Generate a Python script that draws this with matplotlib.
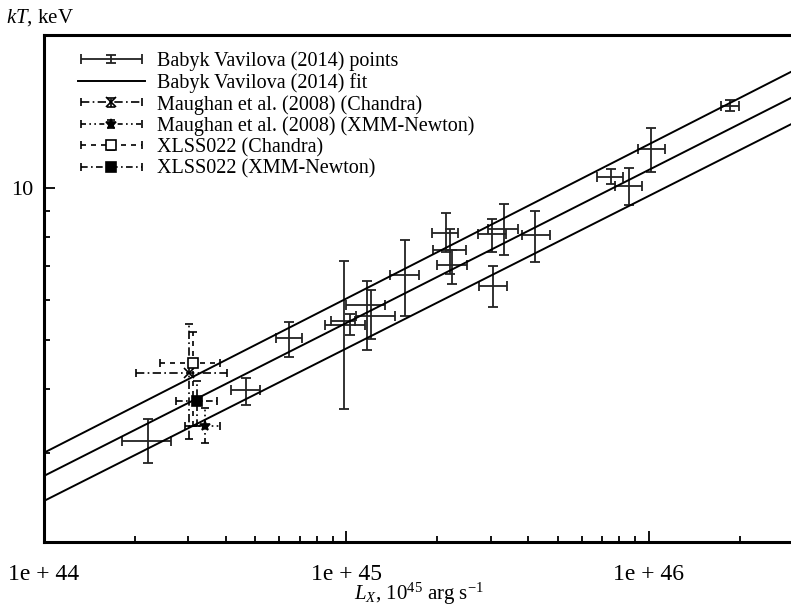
import matplotlib
matplotlib.use("Agg")
import matplotlib.pyplot as plt
from matplotlib.ticker import FuncFormatter, NullFormatter, LogLocator
from matplotlib.legend_handler import HandlerErrorbar
import numpy as np

plt.rcParams['font.family'] = ['Liberation Serif', 'DejaVu Serif']
plt.rcParams['mathtext.fontset'] = 'custom'
plt.rcParams['mathtext.rm'] = 'Liberation Serif'
plt.rcParams['mathtext.it'] = 'Liberation Serif:italic'

# Babyk & Vavilova (2014) points: L_X, kT and error ranges
bv_L = [2.21e44, 4.66e44, 6.46e44, 9.82e44, 1.03e45, 1.17e45, 1.21e45, 1.56e45,
        2.13e45, 2.20e45, 2.23e45, 3.05e45, 3.03e45, 3.32e45, 4.20e45,
        7.48e45, 8.59e45, 1.02e46, 1.85e46]
bv_L_lo = [1.81e44, 4.15e44, 5.85e44, 8.49e44, 8.89e44, 1.00e45, 1.08e45, 1.39e45,
           1.92e45, 1.93e45, 1.99e45, 2.74e45, 2.72e45, 2.94e45, 3.80e45,
           6.73e45, 7.73e45, 9.20e45, 1.73e46]
bv_L_hi = [2.63e44, 5.18e44, 7.13e44, 1.15e45, 1.07e45, 1.34e45, 1.45e45, 1.74e45,
           2.34e45, 2.48e45, 2.50e45, 3.40e45, 3.37e45, 3.69e45, 4.71e45,
           8.20e45, 9.48e45, 1.13e46, 1.99e46]
bv_T = [3.17, 3.98, 5.06, 5.35, 5.45, 5.87, 5.57, 6.74,
        8.15, 7.55, 7.05, 6.41, 8.11, 8.30, 8.08,
        10.51, 10.09, 11.94, 14.51]
bv_T_lo = [2.86, 3.73, 4.64, 3.66, 5.11, 4.79, 5.04, 5.57,
           7.45, 6.76, 6.47, 5.82, 7.48, 7.35, 7.14,
           10.18, 9.26, 10.75, 14.19]
bv_T_hi = [3.49, 4.22, 5.42, 7.18, 5.64, 6.53, 6.27, 7.90,
           8.93, 8.30, 7.52, 7.02, 8.69, 9.30, 9.01,
           10.9, 10.95, 13.13, 14.92]

# fit line and its two bounds (end points at the x limits)
fit_L = [1e44, 3e46]
fit_T = [2.70, 15.1]
fit_T_up = [3.00, 17.0]
fit_T_dn = [2.41, 13.4]

# other measurements: L, L_lo, L_hi, T, T_lo, T_hi
maughan_ch = [3.01e44, 2.01e44, 4.03e44, 4.30, 3.20, 5.39]
maughan_xmm = [3.41e44, 2.93e44, 3.82e44, 3.39, 3.13, 3.68]
xlss_ch = [3.11e44, 2.42e44, 3.82e44, 4.50, 3.39, 5.18]
xlss_xmm = [3.21e44, 2.73e44, 3.73e44, 3.80, 3.39, 4.16]

fig = plt.figure(figsize=(7.91, 6.09), dpi=100)
ax = fig.add_axes([0.0556, 0.110, 0.947, 0.8325])
ax.set_xscale('log')
ax.set_yscale('log')

bv_L = np.array(bv_L); bv_T = np.array(bv_T)
xerr = [bv_L - np.array(bv_L_lo), np.array(bv_L_hi) - bv_L]
yerr = [bv_T - np.array(bv_T_lo), np.array(bv_T_hi) - bv_T]
h_pts = ax.errorbar(bv_L, bv_T, xerr=xerr, yerr=yerr, fmt='none', ecolor='#222222',
                    elinewidth=1.3, capsize=3.5, capthick=1.3,
                    label='Babyk Vavilova (2014) points')

h_fit, = ax.plot(fit_L, fit_T, color='black', lw=1.4, label='Babyk Vavilova (2014) fit')
ax.plot(fit_L, fit_T_up, color='black', lw=1.4)
ax.plot(fit_L, fit_T_dn, color='black', lw=1.4)


def other(d, marker, ls, label, mfc):
    L, Llo, Lhi, T, Tlo, Thi = d
    eb = ax.errorbar([L], [T], xerr=[[L - Llo], [Lhi - L]], yerr=[[T - Tlo], [Thi - T]],
                     fmt=marker, color='black', mfc=mfc, ms=7, mew=1.2,
                     elinewidth=1.2, capsize=3, capthick=1.2, label=label)
    for lc in eb[2]:
        lc.set_linestyle(ls)
    return eb


h1 = other(maughan_ch, 'x', (0, (5, 2, 1, 2)), 'Maughan et al. (2008) (Chandra)', 'none')
h2 = other(maughan_xmm, '*', (0, (3, 2, 1, 2, 1, 2)), 'Maughan et al. (2008) (XMM-Newton)', 'black')
h3 = other(xlss_ch, 's', (0, (3, 3)), 'XLSS022 (Chandra)', 'white')
h4 = other(xlss_xmm, 's', (0, (4, 2, 1, 2)), 'XLSS022 (XMM-Newton)', 'black')

ax.set_xlim(1e44, 3e46)
ax.set_ylim(2, 20)

ax.xaxis.set_major_formatter(FuncFormatter(lambda v, p: '1e + %d' % round(np.log10(v))))
ax.xaxis.set_minor_formatter(NullFormatter())
ax.yaxis.set_major_locator(LogLocator(base=10))
ax.yaxis.set_major_formatter(FuncFormatter(lambda v, p: '%d' % v))
ax.yaxis.set_minor_formatter(NullFormatter())
ax.tick_params(which='both', direction='in', top=False, right=False, width=1.3)
ax.tick_params(which='major', length=8)
ax.tick_params(which='minor', length=4)
ax.tick_params(axis='x', labelsize=17, pad=16)
ax.tick_params(axis='y', labelsize=16, pad=8)

for s in ['left', 'bottom', 'top']:
    ax.spines[s].set_linewidth(2.2)
ax.spines['right'].set_visible(False)

ax.set_xlabel(r'$L_X$, 10$^{45}$ arg s$^{-1}$', fontsize=15, labelpad=-3)
fig.text(0.008, 0.972, r'$kT$, keV', fontsize=15, ha='left', va='center')

hm = HandlerErrorbar(xerr_size=1.5, yerr_size=0.2, numpoints=1)
ax.legend([h_pts, h_fit, h1, h2, h3, h4],
          ['Babyk Vavilova (2014) points', 'Babyk Vavilova (2014) fit',
           'Maughan et al. (2008) (Chandra)', 'Maughan et al. (2008) (XMM-Newton)',
           'XLSS022 (Chandra)', 'XLSS022 (XMM-Newton)'],
          handler_map={type(h_pts): hm},
          loc='upper left', bbox_to_anchor=(0.024, 1.0), frameon=False, fontsize=14.5,
          handlelength=3.3, labelspacing=0.1, borderpad=0.3, handletextpad=0.6)

fig.savefig('out.png', dpi=100)
